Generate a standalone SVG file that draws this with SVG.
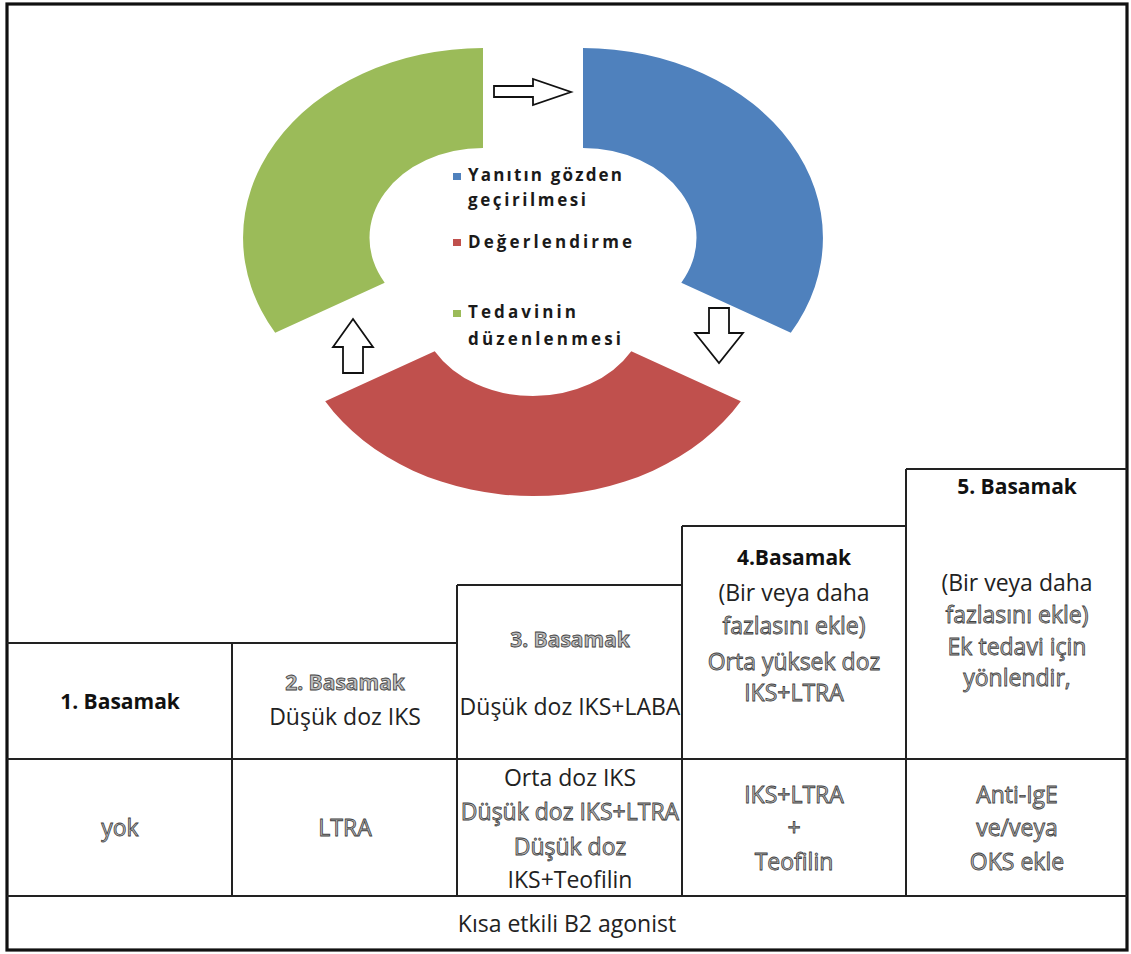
<svg xmlns="http://www.w3.org/2000/svg" width="1131" height="954" viewBox="0 0 1131 954">
<style>
.t{font-family:"Open Sans","Liberation Sans",sans-serif;font-size:23px;fill:#222;text-anchor:middle}
.b{font-family:"Open Sans","Liberation Sans",sans-serif;font-size:21px;font-weight:bold;fill:#111;text-anchor:middle}
.g{font-family:"Open Sans","Liberation Sans",sans-serif;font-size:23px;fill:#bdbdbd;stroke:#404040;stroke-width:0.8;text-anchor:middle}
.gb{font-family:"Open Sans","Liberation Sans",sans-serif;font-size:21px;font-weight:bold;fill:#bdbdbd;stroke:#404040;stroke-width:0.8;text-anchor:middle}
.lg{font-family:"Open Sans","Liberation Sans",sans-serif;font-size:17px;font-weight:bold;fill:#1a1a1a}
.ln{stroke:#222;stroke-width:2;fill:none}
.arr{fill:#fff;stroke:#111;stroke-width:1.8;stroke-linejoin:miter}
</style>
<rect width="1131" height="954" fill="#fff"/>
<rect x="7" y="4" width="1120" height="946" fill="none" stroke="#111" stroke-width="3.2"/>

<g id="segment-blue">
<path d="M583,48 A240,189.8 0 0 1 790.8,332.7 L681.3,282.7 A113.5,89.8 0 0 0 583,148 Z" fill="#4F81BD"/>
</g>
<g id="segment-red">
<path d="M740.8,401.2 A240,189.8 0 0 1 325.2,401.2 L434.7,351.2 A113.5,89.8 0 0 0 631.3,351.2 Z" fill="#C0504D"/>
</g>
<g id="segment-green">
<path d="M275.2,332.7 A240,189.8 0 0 1 483,48 L483,148 A113.5,89.8 0 0 0 384.7,282.7 Z" fill="#9BBB59"/>
</g>

<g id="legend">
<rect x="453" y="173" width="8" height="7" fill="#4F81BD"/>
<text class="lg" x="468" y="181" textLength="154" lengthAdjust="spacing">Yanıtın gözden</text>
<text class="lg" x="468" y="206" textLength="118" lengthAdjust="spacing">geçirilmesi</text>
<rect x="453" y="239" width="8" height="7" fill="#C0504D"/>
<text class="lg" x="468" y="248" textLength="164" lengthAdjust="spacing">Değerlendirme</text>
<rect x="453" y="310" width="8" height="7" fill="#9BBB59"/>
<text class="lg" x="468" y="318" textLength="108" lengthAdjust="spacing">Tedavinin</text>
<text class="lg" x="468" y="345" textLength="153" lengthAdjust="spacing">düzenlenmesi</text>
</g>

<g id="connectors">
<path class="arr" d="M494,86 L533,86 L533,79 L571,92 L533,105 L533,97 L494,97 Z"/>
<path class="arr" d="M709,308 L729,308 L729,333 L743,333 L719,363 L695,333 L709,333 Z"/>
<path class="arr" d="M353,319 L373,347 L363,347 L363,373 L343,373 L343,347 L333,347 Z"/>
</g>

<g id="table-lines">
<path class="ln" d="M7,643 H457 M457,585 H682 M682,526 H906 M906,469 H1127"/>
<path class="ln" d="M232,643 V896 M457,585 V896 M682,526 V896 M906,469 V896"/>
<path class="ln" d="M7,759 H1127 M7,896 H1127"/>
</g>

<g id="step1">
<text class="b" x="120" y="709">1. Basamak</text>
<text class="g" x="120" y="836">yok</text>
</g>
<g id="step2">
<text class="gb" x="345" y="690">2. Basamak</text>
<text class="t" x="345" y="725">Düşük doz IKS</text>
<text class="g" x="345" y="836">LTRA</text>
</g>
<g id="step3">
<text class="gb" x="570" y="647">3. Basamak</text>
<text class="t" x="570" y="715">Düşük doz IKS+LABA</text>
<text class="t" x="570" y="786">Orta doz IKS</text>
<text class="g" x="570" y="820">Düşük doz IKS+LTRA</text>
<text class="g" x="570" y="855">Düşük doz</text>
<text class="t" x="570" y="888">IKS+Teofilin</text>
</g>
<g id="step4">
<text class="b" x="794" y="565">4.Basamak</text>
<text class="t" x="794" y="601">(Bir veya daha</text>
<text class="g" x="794" y="634">fazlasını ekle)</text>
<text class="g" x="794" y="670">Orta yüksek doz</text>
<text class="g" x="794" y="701">IKS+LTRA</text>
<text class="g" x="794" y="803">IKS+LTRA</text>
<text class="g" x="794" y="836">+</text>
<text class="g" x="794" y="870">Teofilin</text>
</g>
<g id="step5">
<text class="b" x="1017" y="494">5. Basamak</text>
<text class="t" x="1017" y="591">(Bir veya daha</text>
<text class="g" x="1017" y="623">fazlasını ekle)</text>
<text class="g" x="1017" y="655">Ek tedavi için</text>
<text class="g" x="1017" y="686">yönlendir,</text>
<text class="g" x="1017" y="803">Anti-IgE</text>
<text class="g" x="1017" y="836">ve/veya</text>
<text class="g" x="1017" y="870">OKS ekle</text>
</g>
<g id="footer">
<text class="t" x="567" y="932">Kısa etkili B2 agonist</text>
</g>
</svg>
